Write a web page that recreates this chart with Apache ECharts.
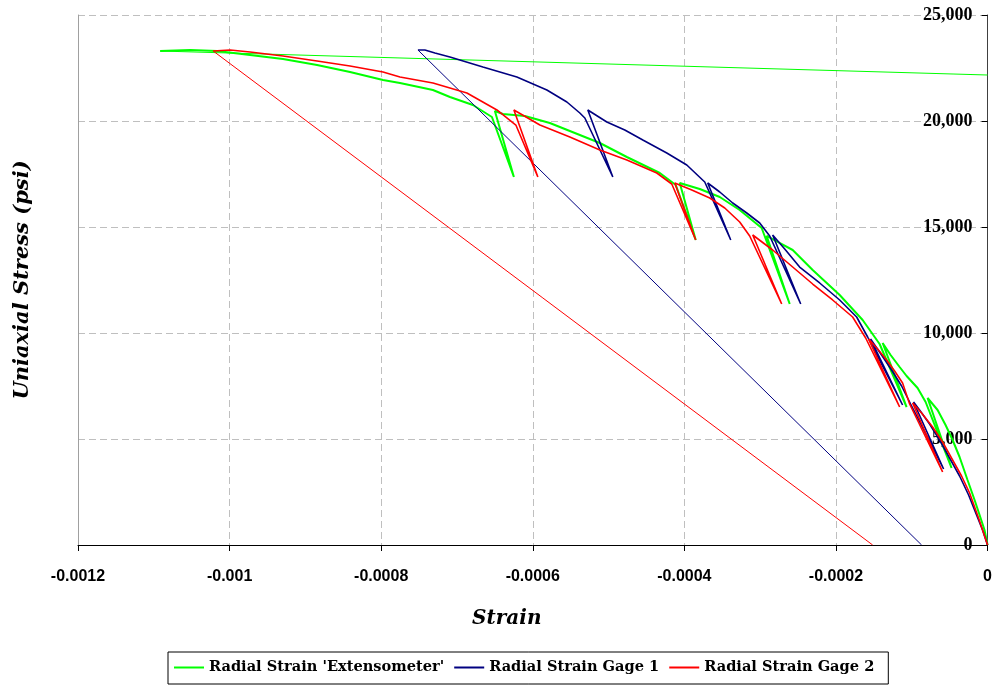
<!DOCTYPE html>
<html>
<head>
<meta charset="utf-8">
<script src="https://cdn.jsdelivr.net/npm/echarts@6/dist/echarts.min.js"></script>
<style>
  html, body { margin: 0; padding: 0; background: #fff; }
  #chart { width: 995px; height: 686px; }
</style>
</head>
<body>
<div id="chart"></div>
<script>
// Tick labels
const xTickLabels = ['-0.0012', '-0.001', '-0.0008', '-0.0006', '-0.0004', '-0.0002', '0'];
const yTickLabels = ['0', '5,000', '10,000', '15,000', '20,000', '25,000'];

// Series names
const seriesNames = ["Radial Strain 'Extensometer'", 'Radial Strain Gage 1', 'Radial Strain Gage 2'];

// [radial strain, uniaxial stress (psi)] — loading path with unload/reload cycles
const extensometerCurve = [
  [0, 0], [-0.0000040, 708], [-0.0000105, 1415], [-0.0000171, 2123], [-0.0000264, 3066],
  [-0.0000369, 4151], [-0.0000461, 4953], [-0.0000554, 5660], [-0.0000659, 6368],
  [-0.0000791, 6934], [-0.0000475, 3632], [-0.0000817, 6745],
  [-0.0000923, 7406], [-0.0001068, 7972], [-0.0001160, 8396], [-0.0001279, 8962],
  [-0.0001384, 9528], [-0.0001068, 6509], [-0.0001424, 9481],
  [-0.0001648, 10613], [-0.0001951, 11793], [-0.0002307, 12972], [-0.0002571, 13915], [-0.0002769, 14293],
  [-0.0002914, 14576], [-0.0002610, 11368], [-0.0002980, 14953],
  [-0.0003270, 15802], [-0.0003533, 16415], [-0.0003797, 16793],
  [-0.0004061, 17076], [-0.0003850, 14387], [-0.0004113, 16981],
  [-0.0004324, 17547], [-0.0004759, 18302], [-0.0005115, 18962], [-0.0005445, 19434],
  [-0.0005775, 19906], [-0.0006104, 20236], [-0.0006394, 20330],
  [-0.0006500, 20472], [-0.0006249, 17359], [-0.0006539, 20189],
  [-0.0006790, 20755], [-0.0007093, 21132], [-0.0007317, 21462], [-0.0007752, 21793],
  [-0.0007976, 21934], [-0.0008411, 22311], [-0.0008846, 22642], [-0.0009295, 22925],
  [-0.0009730, 23113], [-0.0010165, 23302], [-0.0010521, 23349], [-0.0010916, 23302]
];
const extensometerUnload = [[-0.0010916, 23302], [0, 22170]];

const gage1Curve = [
  [0, 0], [-0.0000066, 708], [-0.0000145, 1415], [-0.0000250, 2359], [-0.0000369, 3255],
  [-0.0000501, 4104], [-0.0000633, 4953], [-0.0000765, 5708], [-0.0000897, 6368],
  [-0.0000976, 6745], [-0.0000580, 3585], [-0.0001015, 6651],
  [-0.0001134, 7500], [-0.0001266, 8255], [-0.0001398, 8962],
  [-0.0001543, 9717], [-0.0001121, 6604], [-0.0001582, 9811],
  [-0.0001727, 10755], [-0.0001951, 11557], [-0.0002215, 12359], [-0.0002479, 13113], [-0.0002676, 13962],
  [-0.0002835, 14623], [-0.0002465, 11368], [-0.0002874, 14576],
  [-0.0003006, 15189], [-0.0003177, 15660], [-0.0003362, 16132], [-0.0003533, 16651],
  [-0.0003692, 17076], [-0.0003388, 14387], [-0.0003731, 17123],
  [-0.0003968, 17925], [-0.0004232, 18491], [-0.0004548, 19104], [-0.0004786, 19576], [-0.0005023, 19953],
  [-0.0005274, 20519], [-0.0004944, 17359], [-0.0005313, 20142],
  [-0.0005379, 20377], [-0.0005550, 20896], [-0.0005814, 21462], [-0.0006210, 22076],
  [-0.0006658, 22547], [-0.0007093, 23019], [-0.0007291, 23208], [-0.0007423, 23349], [-0.0007515, 23349]
];
const gage1Unload = [[-0.0007515, 23349], [-0.0000870, 0]];

const gage2Curve = [
  [0, 0], [-0.0000119, 1274], [-0.0000237, 2453], [-0.0000343, 3255], [-0.0000461, 4009],
  [-0.0000593, 4859], [-0.0000725, 5566], [-0.0000870, 6226],
  [-0.0000989, 6698], [-0.0000593, 3443], [-0.0001028, 6651],
  [-0.0001121, 7642], [-0.0001226, 8208], [-0.0001332, 8726], [-0.0001450, 9245],
  [-0.0001569, 9717], [-0.0001160, 6509], [-0.0001608, 9764],
  [-0.0001780, 10755], [-0.0002044, 11557], [-0.0002307, 12311], [-0.0002571, 13113], [-0.0002835, 13915],
  [-0.0003098, 14623], [-0.0002716, 11368], [-0.0003138, 14576],
  [-0.0003270, 15236], [-0.0003467, 15896], [-0.0003665, 16368], [-0.0003902, 16745],
  [-0.0004127, 17076], [-0.0003850, 14387], [-0.0004166, 17028],
  [-0.0004364, 17547], [-0.0004759, 18160], [-0.0005115, 18632], [-0.0005511, 19245], [-0.0005906, 19811],
  [-0.0006249, 20519], [-0.0005933, 17359], [-0.0006223, 19811],
  [-0.0006473, 20519], [-0.0006869, 21321], [-0.0007317, 21793], [-0.0007752, 22076],
  [-0.0007976, 22311], [-0.0008411, 22594], [-0.0008846, 22830], [-0.0009295, 23066],
  [-0.0009730, 23255], [-0.0009993, 23349], [-0.0010217, 23302]
];
const gage2Unload = [[-0.0010217, 23302], [-0.0001516, 0]];

const colors = ['#00ff00', '#000080', '#ff0000'];

const serifFont = 'DejaVu Serif';
const gridDash = [7, 4];

function lineSeries(name, data, color, width) {
  return {
    name: name,
    type: 'line',
    data: data,
    symbol: 'none',
    showSymbol: false,
    clip: true,
    lineStyle: { color: color, width: width },
    itemStyle: { color: color },
    emphasis: { disabled: true }
  };
}

const chart = echarts.init(document.getElementById('chart'), null, { renderer: 'canvas' });

chart.setOption({
  animation: false,
  backgroundColor: '#ffffff',
  grid: { left: 78, right: 7, top: 15, bottom: 141, containLabel: false },
  legend: {
    data: seriesNames,
    left: 168,
    top: 652,
    icon: 'rect',
    itemWidth: 30,
    itemHeight: 2,
    itemGap: 10,
    borderColor: '#000000',
    borderWidth: 1,
    padding: [8, 14, 9, 6],
    textStyle: { fontFamily: serifFont, fontWeight: 'bold', fontSize: 14.6, color: '#000000' }
  },
  xAxis: {
    type: 'value',
    min: -0.0012,
    max: 0,
    interval: 0.0002,
    position: 'bottom',
    axisLine: { show: true, onZero: false, lineStyle: { color: '#000000', width: 1 } },
    axisTick: { show: true, length: 6, lineStyle: { color: '#000000' } },
    axisLabel: {
      margin: 24,
      formatter: function (v) { return xTickLabels[Math.round(v / 0.0002) + 6]; },
      fontFamily: 'Liberation Sans', fontWeight: 'bold', fontSize: 16, color: '#000000'
    },
    splitLine: { show: true, lineStyle: { color: '#bfbfbf', width: 1, type: gridDash } },
    name: 'Strain',
    nameLocation: 'middle',
    nameGap: 64,
    nameTextStyle: {
      fontFamily: serifFont, fontStyle: 'italic', fontWeight: 'bold', fontSize: 20, color: '#000000',
      padding: [0, 52, 0, 0]
    }
  },
  yAxis: [
    {
      type: 'value',
      position: 'right',
      min: 0,
      max: 25000,
      interval: 5000,
      axisLine: { show: true, onZero: false, lineStyle: { color: '#404040', width: 1 } },
      axisTick: { show: true, inside: true, length: 6, lineStyle: { color: '#000000' } },
      axisLabel: {
        inside: true,
        margin: 15,
        formatter: function (v) { return yTickLabels[Math.round(v / 5000)]; },
        fontFamily: 'Liberation Serif', fontWeight: 'bold', fontSize: 18, color: '#000000'
      },
      splitLine: { show: true, lineStyle: { color: '#bfbfbf', width: 1, type: gridDash } }
    },
    {
      type: 'value',
      position: 'left',
      min: 0,
      max: 25000,
      interval: 5000,
      axisLine: { show: true, onZero: false, lineStyle: { color: '#a0a0a0', width: 1 } },
      axisTick: { show: false },
      axisLabel: { show: false },
      splitLine: { show: false },
      name: 'Uniaxial Stress (psi)',
      nameLocation: 'middle',
      nameGap: 45,
      nameTextStyle: { fontFamily: serifFont, fontStyle: 'italic', fontWeight: 'bold', fontSize: 21, color: '#000000' }
    }
  ],
  series: [
    lineSeries(seriesNames[0], extensometerCurve, colors[0], 2),
    lineSeries(seriesNames[0], extensometerUnload, colors[0], 1.2),
    lineSeries(seriesNames[1], gage1Curve, colors[1], 1.6),
    lineSeries(seriesNames[1], gage1Unload, colors[1], 1),
    lineSeries(seriesNames[2], gage2Curve, colors[2], 1.6),
    lineSeries(seriesNames[2], gage2Unload, colors[2], 1)
  ]
});
</script>
</body>
</html>
